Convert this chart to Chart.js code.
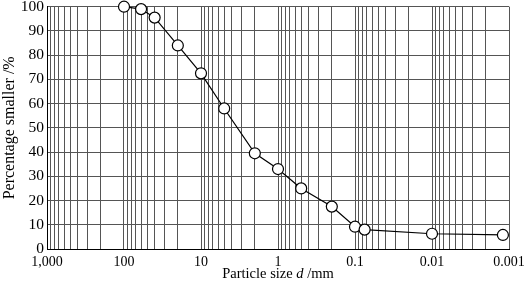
<!DOCTYPE html>
<html>
<head>
<meta charset="utf-8">
<script src="https://cdn.jsdelivr.net/npm/chart.js@4"></script>
<style>
  html, body { margin: 0; padding: 0; background: #fff; }
  #wrap { position: relative; width: 526px; height: 288px; }
  #xtitle {
    position: absolute; left: 47px; width: 462px; top: 265px;
    text-align: center; font-family: "Liberation Serif", serif; font-size: 14.5px; color: #000;
  }
</style>
</head>
<body>
<div id="wrap">
  <canvas id="canvas" width="526" height="288"></canvas>
  <div id="xtitle">Particle size <i>d</i> /mm</div>
</div>
<script>
const ctx = document.getElementById('canvas');

// particle size (mm) and percentage smaller
const sizes = [100, 60, 40, 20, 10, 5, 2, 1, 0.5, 0.2, 0.1, 0.075, 0.01, 0.0012];
const percents = [100, 99, 95.5, 84, 72.5, 58, 39.5, 33, 25, 17.5, 9.2, 8, 6.3, 5.8];

const decades = [1000, 100, 10, 1, 0.1, 0.01, 0.001];
const decadeLabels = ['1,000', '100', '10', '1', '0.1', '0.01', '0.001'];
const yTicks = [0, 10, 20, 30, 40, 50, 60, 70, 80, 90, 100];

const serif = '"Liberation Serif", "Times New Roman", serif';

// grid positions: every 1..9 x 10^k
const gridVals = [];
for (let e = -3; e <= 2; e++) {
    for (let m = 1; m <= 9; m++) {
        gridVals.push(Number((m * Math.pow(10, e)).toPrecision(2)));
    }
}
gridVals.push(1000);

new Chart(ctx, {
    type: 'line',
    data: {
        datasets: [{
            data: sizes.map((s, i) => ({ x: s, y: percents[i] })),
            borderColor: '#000',
            borderWidth: 1.2,
            tension: 0,
            pointRadius: 5.5,
            pointBackgroundColor: '#fff',
            pointBorderColor: '#000',
            pointBorderWidth: 1.2,
            clip: false
        }]
    },
    options: {
        responsive: false,
        animation: false,
        layout: { padding: { top: 6, right: 17, left: 0, bottom: 0 } },
        plugins: { legend: { display: false }, tooltip: { enabled: false } },
        scales: {
            x: {
                type: 'logarithmic',
                reverse: true,
                min: 0.001,
                max: 1000,
                afterBuildTicks: (scale) => {
                    scale.ticks = gridVals.map(v => ({ value: v }));
                },
                afterFit: (scale) => {
                    scale.height = 39;
                    scale.paddingLeft = 0;
                    scale.paddingRight = 0;
                },
                ticks: {
                    autoSkip: false,
                    maxRotation: 0,
                    padding: 5,
                    color: '#000',
                    font: { family: serif, size: 14 },
                    callback: (v) => {
                        const i = decades.findIndex(d => Math.abs(d - v) / d < 1e-6);
                        return i >= 0 ? decadeLabels[i] : '';
                    }
                },
                grid: { color: '#555', lineWidth: 1, drawTicks: false },
                border: { color: '#000', width: 1 }
            },
            y: {
                min: 0,
                max: 100,
                afterBuildTicks: (scale) => {
                    scale.ticks = yTicks.map(v => ({ value: v }));
                },
                afterFit: (scale) => {
                    scale.width = 47;
                    scale.paddingTop = 0;
                    scale.paddingBottom = 0;
                },
                ticks: {
                    padding: 3,
                    color: '#000',
                    font: { family: serif, size: 15.5 }
                },
                grid: { color: '#555', lineWidth: 1, drawTicks: false },
                border: { color: '#000', width: 1 },
                title: {
                    display: true,
                    text: 'Percentage smaller /%',
                    color: '#000',
                    padding: 0,
                    font: { family: serif, size: 16 }
                }
            }
        }
    }
});
</script>
</body>
</html>
